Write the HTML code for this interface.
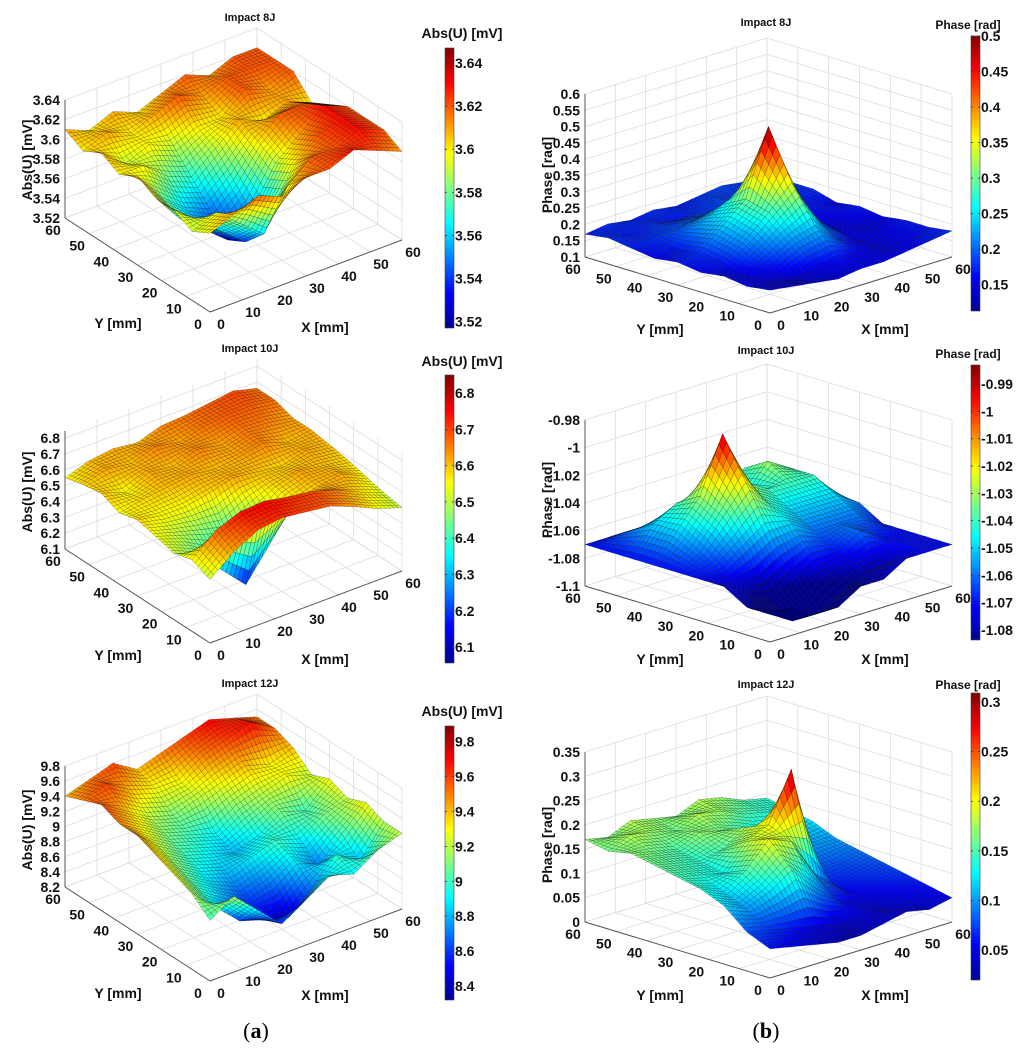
<!DOCTYPE html>
<html><head><meta charset="utf-8">
<style>
html,body{margin:0;padding:0;background:#fff;}
svg{display:block;font-family:"Liberation Sans",Arial,sans-serif;}
.tk{font-size:14px;font-weight:bold;fill:#111;}
.ttl{font-size:11px;font-weight:bold;fill:#111;}
.ax{font-size:14px;font-weight:bold;fill:#111;}
</style></head>
<body>
<svg id="fig" width="1024" height="1053" viewBox="0 0 1024 1053" xmlns="http://www.w3.org/2000/svg">
<defs>
<linearGradient id="jet" x1="0" y1="1" x2="0" y2="0">
<stop offset="0" stop-color="#00008f"/><stop offset="0.125" stop-color="#0000ff"/><stop offset="0.375" stop-color="#00ffff"/><stop offset="0.625" stop-color="#ffff00"/><stop offset="0.875" stop-color="#ff0000"/><stop offset="1" stop-color="#800000"/>
</linearGradient>
</defs>
<text x="256" y="1038" text-anchor="middle" style="font-family:'Liberation Serif',serif;font-size:22px;">(<tspan font-weight="bold">a</tspan>)</text>
<text x="766" y="1038" text-anchor="middle" style="font-family:'Liberation Serif',serif;font-size:22px;">(<tspan font-weight="bold">b</tspan>)</text>
</svg>
<script>
// grid coordinates (mm)
const gridMM = [0, 7.5, 15, 22.5, 30, 37.5, 45, 52.5, 60];
const axisTicksMM = [0, 10, 20, 30, 40, 50, 60];
// surface values [iy][ix]
const abs8J = [
[3.60,3.61,3.62,3.61,3.62,3.62,3.63,3.62,3.61],
[3.59,3.60,3.58,3.56,3.60,3.62,3.62,3.63,3.62],
[3.60,3.58,3.56,3.54,3.56,3.60,3.62,3.63,3.62],
[3.60,3.57,3.55,3.53,3.55,3.59,3.61,3.63,3.62],
[3.61,3.58,3.56,3.55,3.57,3.60,3.62,3.62,3.61],
[3.60,3.60,3.58,3.57,3.59,3.61,3.60,3.61,3.60],
[3.61,3.59,3.60,3.59,3.60,3.60,3.62,3.61,3.62],
[3.60,3.61,3.60,3.61,3.62,3.61,3.62,3.62,3.62],
[3.61,3.60,3.61,3.60,3.61,3.62,3.61,3.62,3.62]];
const abs10J = [
[6.50,6.62,6.70,6.72,6.70,6.68,6.62,6.55,6.50],
[6.55,6.68,6.74,6.75,6.72,6.70,6.65,6.58,6.52],
[6.52,6.45,6.30,6.15,6.35,6.55,6.60,6.62,6.55],
[6.55,6.50,6.45,6.40,6.50,6.58,6.62,6.60,6.58],
[6.58,6.55,6.55,6.58,6.62,6.60,6.58,6.62,6.60],
[6.55,6.58,6.60,6.62,6.60,6.62,6.65,6.60,6.62],
[6.60,6.55,6.62,6.60,6.65,6.62,6.66,6.65,6.62],
[6.58,6.62,6.60,6.65,6.62,6.66,6.68,6.68,6.66],
[6.55,6.60,6.62,6.60,6.65,6.66,6.68,6.70,6.66]];
const abs12J = [
[9.0,9.2,8.9,8.6,8.8,9.0,8.9,9.1,9.2],
[9.2,8.9,8.6,8.5,8.4,8.7,9.0,8.8,9.2],
[9.3,9.0,8.8,8.6,8.7,8.9,8.7,9.0,9.3],
[9.4,9.1,8.9,8.8,8.9,9.0,8.9,9.1,9.2],
[9.5,9.2,9.0,8.9,8.8,8.9,9.1,9.0,9.3],
[9.5,9.3,9.1,9.0,8.9,9.1,9.2,9.3,9.2],
[9.6,9.4,9.2,9.1,9.2,9.3,9.4,9.3,9.4],
[9.5,9.6,9.4,9.3,9.3,9.5,9.6,9.7,9.5],
[9.4,9.5,9.6,9.4,9.5,9.6,9.7,9.6,9.5]];
const phase8J = [
[.17,.16,.15,.14,.15,.15,.16,.17,.18],
[.16,.15,.14,.16,.17,.16,.15,.16,.17],
[.17,.15,.18,.22,.24,.18,.15,.16,.17],
[.16,.17,.22,.28,.35,.22,.16,.15,.16],
[.17,.18,.24,.30,.50,.25,.15,.16,.17],
[.16,.17,.22,.26,.30,.20,.16,.17,.16],
[.17,.18,.19,.20,.19,.17,.18,.17,.18],
[.18,.17,.18,.17,.18,.19,.18,.17,.18],
[.17,.18,.17,.18,.17,.18,.19,.18,.17]];
const phase10J = [
[-1.08,-1.08,-1.09,-1.09,-1.08,-1.08,-1.07,-1.07,-1.07],
[-1.08,-1.09,-1.10,-1.10,-1.09,-1.08,-1.08,-1.07,-1.07],
[-1.07,-1.08,-1.09,-1.08,-1.07,-1.07,-1.06,-1.07,-1.07],
[-1.07,-1.07,-1.06,-1.05,-1.05,-1.06,-1.06,-1.06,-1.07],
[-1.07,-1.06,-1.04,-1.02,-1.04,-1.05,-1.05,-1.05,-1.06],
[-1.07,-1.05,-1.03,-0.99,-1.03,-1.04,-1.04,-1.04,-1.06],
[-1.07,-1.05,-1.04,-1.04,-1.05,-1.05,-1.03,-1.04,-1.06],
[-1.07,-1.06,-1.06,-1.06,-1.06,-1.05,-1.04,-1.05,-1.06],
[-1.07,-1.07,-1.07,-1.07,-1.07,-1.06,-1.06,-1.06,-1.07]];
const phase12J = [
[.06,.05,.04,.03,.03,.04,.05,.04,.05],
[.08,.07,.06,.05,.04,.05,.04,.05,.06],
[.12,.10,.12,.15,.10,.06,.05,.06,.07],
[.14,.12,.15,.20,.18,.10,.06,.07,.08],
[.15,.14,.13,.18,.20,.30,.08,.08,.09],
[.16,.15,.14,.15,.18,.14,.09,.10,.10],
[.17,.16,.15,.17,.16,.14,.12,.11,.12],
[.16,.18,.17,.16,.18,.17,.15,.14,.13],
[.17,.16,.18,.17,.16,.18,.17,.15,.14]];
// z tick labels
const zTicks8J = ["3.52","3.54","3.56","3.58","3.6","3.62","3.64"];
const zTicks10J = ["6.1","6.2","6.3","6.4","6.5","6.6","6.7","6.8"];
const zTicks12J = ["8.2","8.4","8.6","8.8","9","9.2","9.4","9.6","9.8"];
const pTicks8J = ["0.1","0.15","0.2","0.25","0.3","0.35","0.4","0.45","0.5","0.55","0.6"];
const pTicks10J = ["-1.1","-1.08","-1.06","-1.04","-1.02","-1","-0.98"];
const pTicks12J = ["0","0.05","0.1","0.15","0.2","0.25","0.3","0.35"];
// colorbar ticks
const cb8J = ["3.52","3.54","3.56","3.58","3.6","3.62","3.64"];
const cb10J = ["6.1","6.2","6.3","6.4","6.5","6.6","6.7","6.8"];
const cb12J = ["8.4","8.6","8.8","9","9.2","9.4","9.6","9.8"];
const cbP8J = ["0.15","0.2","0.25","0.3","0.35","0.4","0.45","0.5"];
const cbP10J = ["-1.08","-1.07","-1.06","-1.05","-1.04","-1.03","-1.02","-1.01","-1","-0.99"];
const cbP12J = ["0.05","0.1","0.15","0.2","0.25","0.3"];

const NS = "http://www.w3.org/2000/svg";
const svg = document.getElementById('fig');
const LV = {xv:[192,-72], yv:[-145,-94]};
const RV = {xv:[182,-56], yv:[-185,-56]};
const panels = [
 {name:'abs-8j', title:'Impact 8J', data:abs8J, zt:zTicks8J, zmin:3.52, zmax:3.64, front:[210,312], zH:118, v:LV, titleXY:[250,21], cb:{x:445,y0:48,y1:328,min:3.517,max:3.647,ticks:cb8J,title:'Abs(U) [mV]',tx:462,ty:38,ts:14}, zl:'Abs(U) [mV]', zlXY:[32,160], ylXY:[118,328], xlXY:[325,332]},
 {name:'abs-10j', title:'Impact 10J', data:abs10J, zt:zTicks10J, zmin:6.1, zmax:6.845, front:[210,643], zH:118, v:LV, titleXY:[250,352], cb:{x:445,y0:375,y1:663,min:6.056,max:6.85,ticks:cb10J,title:'Abs(U) [mV]',tx:462,ty:366,ts:14}, zl:'Abs(U) [mV]', zlXY:[32,492], ylXY:[118,660], xlXY:[325,664]},
 {name:'abs-12j', title:'Impact 12J', data:abs12J, zt:zTicks12J, zmin:8.2, zmax:9.8, front:[210,981], zH:121, v:LV, titleXY:[250,687], cb:{x:445,y0:726,y1:1000,min:8.32,max:9.89,ticks:cb12J,title:'Abs(U) [mV]',tx:462,ty:716,ts:14}, zl:'Abs(U) [mV]', zlXY:[32,830], ylXY:[118,998], xlXY:[325,1000]},
 {name:'phase-8j', title:'Impact 8J', data:phase8J, zt:pTicks8J, zmin:0.1, zmax:0.6, front:[770,313], zH:163, v:RV, titleXY:[766,26], cb:{x:971,y0:36,y1:311,min:0.113,max:0.5,ticks:cbP8J,title:'Phase [rad]',tx:968,ty:29,ts:12}, zl:'Phase [rad]', zlXY:[552,175], ylXY:[660,334], xlXY:[885,334]},
 {name:'phase-10j', title:'Impact 10J', data:phase10J, zt:pTicks10J, zmin:-1.1, zmax:-0.98, front:[770,642], zH:166, v:RV, titleXY:[766,354], cb:{x:971,y0:365,y1:640,min:-1.0837,max:-0.983,ticks:cbP10J,title:'Phase [rad]',tx:968,ty:358,ts:12}, zl:'Phase [rad]', zlXY:[552,500], ylXY:[660,664], xlXY:[885,664]},
 {name:'phase-12j', title:'Impact 12J', data:phase12J, zt:pTicks12J, zmin:0, zmax:0.35, front:[770,978], zH:170, v:RV, titleXY:[766,688], cb:{x:971,y0:693,y1:980,min:0.02,max:0.309,ticks:cbP12J,title:'Phase [rad]',tx:968,ty:689,ts:12}, zl:'Phase [rad]', zlXY:[552,845], ylXY:[660,1000], xlXY:[885,1000]}
];

const jetStops = [[0,[0,0,143]],[0.125,[0,0,255]],[0.375,[0,255,255]],[0.625,[255,255,0]],[0.875,[255,0,0]],[1,[128,0,0]]];
function jet(t){
  t = Math.max(0, Math.min(1, t));
  for (let i=1;i<jetStops.length;i++){
    if (t <= jetStops[i][0]){
      const a=jetStops[i-1], b=jetStops[i], f=(t-a[0])/(b[0]-a[0]);
      const c=a[1].map((v,k)=>Math.round(v+(b[1][k]-v)*f));
      return 'rgb('+c.join(',')+')';
    }
  }
  return 'rgb(128,0,0)';
}
function mk(tag, parent){ const e=document.createElementNS(NS, tag); parent.appendChild(e); return e; }
function txt(parent, x, y, s, cls, anchor){
  const t = mk('text', parent);
  t.setAttribute('x', x); t.setAttribute('y', y);
  t.setAttribute('class', cls);
  t.setAttribute('text-anchor', anchor||'middle');
  t.textContent = s;
  return t;
}

panels.forEach(p => {
  const g = mk('g', svg);
  
  
  const zs = p.zH/(p.zmax-p.zmin);
  const P = (x,y,z) => [p.front[0]+p.v.xv[0]*x/60+p.v.yv[0]*y/60, p.front[1]+p.v.xv[1]*x/60+p.v.yv[1]*y/60-(z-p.zmin)*zs];
  const line = (a,b,col,w,name) => {
    const l = mk('line', g);
    
    
    l.setAttribute('x1',a[0]); l.setAttribute('y1',a[1]); l.setAttribute('x2',b[0]); l.setAttribute('y2',b[1]);
    l.setAttribute('stroke', col); l.setAttribute('stroke-width', w);
  };
  axisTicksMM.forEach(t => {
    line(P(t,60,p.zmin), P(t,60,p.zmax), '#dcdcdc', 0.8, 'grid-line');
    line(P(t,0,p.zmin), P(t,60,p.zmin), '#dcdcdc', 0.8, 'grid-line');
    line(P(60,t,p.zmin), P(60,t,p.zmax), '#dcdcdc', 0.8, 'grid-line');
    line(P(0,t,p.zmin), P(60,t,p.zmin), '#dcdcdc', 0.8, 'grid-line');
  });
  p.zt.forEach(s => {
    const z = parseFloat(s);
    line(P(0,60,z), P(60,60,z), '#dcdcdc', 0.8, 'grid-line');
    line(P(60,60,z), P(60,0,z), '#dcdcdc', 0.8, 'grid-line');
  });
  line(P(0,60,p.zmin), P(0,60,p.zmax), '#555', 1, 'z-axis');
  line(P(0,0,p.zmin), P(0,60,p.zmin), '#555', 1, 'y-axis');
  line(P(0,0,p.zmin), P(60,0,p.zmin), '#555', 1, 'x-axis');
  const D = p.data, N = gridMM.length, S = 6, M = (N-1)*S;
  const val = (a,b) => {
    const fx=a/S, fy=b/S, i=Math.min(N-2,Math.floor(fx)), j=Math.min(N-2,Math.floor(fy));
    const u=fx-i, w=fy-j;
    return D[j][i]*(1-u)*(1-w)+D[j][i+1]*u*(1-w)+D[j+1][i]*(1-u)*w+D[j+1][i+1]*u*w;
  };
  const mm = (k) => { const f=k/S, i=Math.min(N-2,Math.floor(f)); return gridMM[i]+(gridMM[i+1]-gridMM[i])*(f-i); };
  const cells = [];
  for (let a=0;a<M;a++) for (let b=0;b<M;b++) cells.push([a,b]);
  cells.sort((c1,c2)=>(c2[0]+c2[1])-(c1[0]+c1[1]));
  const sg = mk('g', g);
  
  
  cells.forEach(([a,b]) => {
    const corners = [[a,b],[a+1,b],[a+1,b+1],[a,b+1]];
    let sum = 0;
    const pts = corners.map(([i,j]) => { const v=val(i,j); sum+=v; const q=P(mm(i),mm(j),v); return q[0].toFixed(1)+','+q[1].toFixed(1); });
    const poly = mk('polygon', sg);
    
    
    poly.setAttribute('points', pts.join(' '));
    poly.setAttribute('fill', jet((sum/4 - p.cb.min)/(p.cb.max-p.cb.min)));
    poly.setAttribute('stroke', 'rgba(0,0,0,0.55)');
    poly.setAttribute('stroke-width', '0.35');
  });
  p.zt.forEach(s => {
    const q = P(0,60,parseFloat(s));
    const t = txt(g, q[0]-5, q[1]+5, s, 'tk', 'end');
    
    
  });
  axisTicksMM.forEach(tv => {
    const q = P(0,tv,p.zmin);
    const t = txt(g, q[0]-12, q[1]+17, String(tv), 'tk');
    
    
    const r = P(tv,0,p.zmin);
    const t2 = txt(g, r[0]+11, r[1]+17, String(tv), 'tk');
    
    
  });
  const tt = txt(g, p.titleXY[0], p.titleXY[1], p.title, 'ttl');
  
  
  const yl = txt(g, p.ylXY[0], p.ylXY[1], 'Y [mm]', 'ax');
  
  
  const xl = txt(g, p.xlXY[0], p.xlXY[1], 'X [mm]', 'ax');
  
  
  const zl = txt(g, p.zlXY[0], p.zlXY[1], p.zl, 'ax');
  
  
  zl.setAttribute('transform', 'rotate(-90 '+p.zlXY[0]+' '+p.zlXY[1]+')');
  const c = p.cb;
  const bar = mk('rect', g);
  
  
  bar.setAttribute('x', c.x); bar.setAttribute('y', c.y0);
  bar.setAttribute('width', 9); bar.setAttribute('height', c.y1-c.y0);
  bar.setAttribute('fill', 'url(#jet)'); bar.setAttribute('stroke', '#444'); bar.setAttribute('stroke-width', '0.6');
  c.ticks.forEach(s => {
    const y = c.y1 - (parseFloat(s)-c.min)/(c.max-c.min)*(c.y1-c.y0);
    line([c.x,y],[c.x+2,y],'#333',0.8,'colorbar-tick');
    line([c.x+7,y],[c.x+9,y],'#333',0.8,'colorbar-tick');
    const t = txt(g, c.x+10, y+5, s, 'tk', 'start');
    
    
  });
  const ct = txt(g, c.tx, c.ty, c.title, 'ax');
  
  
  ct.setAttribute('style', 'font-size:'+c.ts+'px');
});
</script>
</body></html>
